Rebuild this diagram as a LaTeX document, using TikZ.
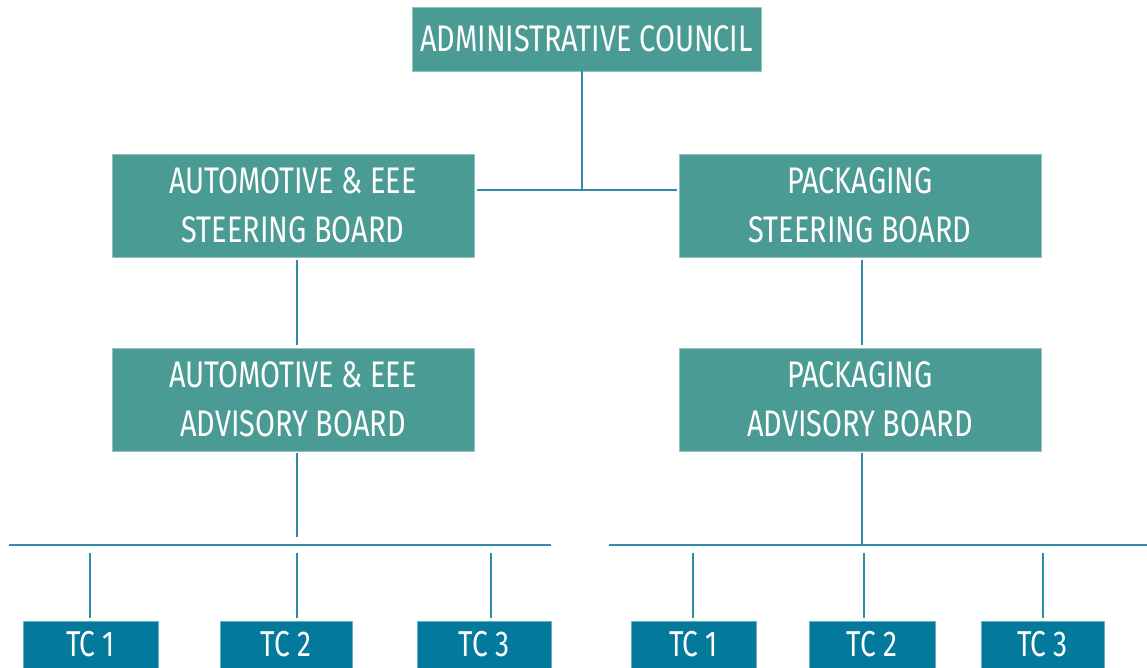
\documentclass[tikz,border=0pt]{standalone}
\usepackage{fontspec}
\setmainfont{Fira Sans}[FakeStretch=0.78]
\definecolor{boxteal}{HTML}{4A9B93}
\definecolor{tcblue}{HTML}{03799C}
\definecolor{linec}{HTML}{2E8CA9}
\begin{document}
\begin{tikzpicture}[x=1pt,y=-1pt,
  board/.style={fill=boxteal,draw=boxteal!60!white,line width=0.8pt,text=white,align=center,
    minimum width=362pt,minimum height=103pt,inner sep=0pt,font=\fontsize{37}{49}\selectfont},
  tcbox/.style={fill=tcblue,draw=tcblue!60!white,line width=0.8pt,text=white,
    minimum height=47pt,inner sep=0pt,font=\fontsize{36}{40}\selectfont},
  conn/.style={draw=linec,line width=2.4pt}]
\useasboundingbox (0,0) rectangle (1147,668);
% boxes
\node[board,minimum width=349pt,minimum height=64pt] (admin) at (586.5,39) {ADMINISTRATIVE COUNCIL};
\node[board] (autoS) at (293,205.5) {AUTOMOTIVE \& EEE\\STEERING BOARD};
\node[board] (packS) at (860,205.5) {PACKAGING\\STEERING BOARD};
\node[board] (autoA) at (293,399.5) {AUTOMOTIVE \& EEE\\ADVISORY BOARD};
\node[board] (packA) at (860,399.5) {PACKAGING\\ADVISORY BOARD};
\node[tcbox,minimum width=135pt] (lt1) at (90.5,644.5) {TC 1};
\node[tcbox,minimum width=132pt] (lt2) at (286,644.5) {TC 2};
\node[tcbox,minimum width=134pt] (lt3) at (484,644.5) {TC 3};
\node[tcbox,minimum width=125pt] (rt1) at (693.5,644.5) {TC 1};
\node[tcbox,minimum width=126pt] (rt2) at (872,644.5) {TC 2};
\node[tcbox,minimum width=123pt] (rt3) at (1042.5,644.5) {TC 3};
% helper coordinates
\coordinate (j) at (582,190);
\coordinate (xl) at (297,0);
\coordinate (xr) at (862,0);
\coordinate (busl1) at (9,545);
\coordinate (busl2) at (551,545);
\coordinate (busr1) at (609,545);
\coordinate (busr2) at (1147,545);
\coordinate (tctop) at (0,553);
\coordinate (xl1) at (90,0);
\coordinate (xl2) at (297,0);
\coordinate (xl3) at (491,0);
\coordinate (xr1) at (693,0);
\coordinate (xr2) at (864,0);
\coordinate (xr3) at (1043,0);
% connectors
\draw[conn] (admin.south -| j) -- (j);
\draw[conn] ([xshift=3pt]autoS.east |- j) -- ([xshift=-2pt]packS.west |- j);
\draw[conn] ([yshift=-3pt]autoS.south -| xl) -- ([yshift=3pt]autoA.north -| xl);
\draw[conn] ([yshift=-3pt]packS.south -| xr) -- ([yshift=3pt]packA.north -| xr);
\draw[conn] ([yshift=-2pt]autoA.south -| xl) -- ([yshift=8pt]busl1 -| xl);
\draw[conn] ([yshift=-2pt]packA.south -| xr) -- (busr1 -| xr);
\draw[conn] (busl1) -- (busl2);
\draw[conn] (busr1) -- (busr2);
\draw[conn] (tctop -| xl1) -- ([yshift=3pt]lt1.north -| xl1);
\draw[conn] (tctop -| xl2) -- ([yshift=3pt]lt2.north -| xl2);
\draw[conn] (tctop -| xl3) -- ([yshift=3pt]lt3.north -| xl3);
\draw[conn] (tctop -| xr1) -- ([yshift=3pt]rt1.north -| xr1);
\draw[conn] (tctop -| xr2) -- ([yshift=3pt]rt2.north -| xr2);
\draw[conn] (tctop -| xr3) -- ([yshift=3pt]rt3.north -| xr3);
\end{tikzpicture}
\end{document}
